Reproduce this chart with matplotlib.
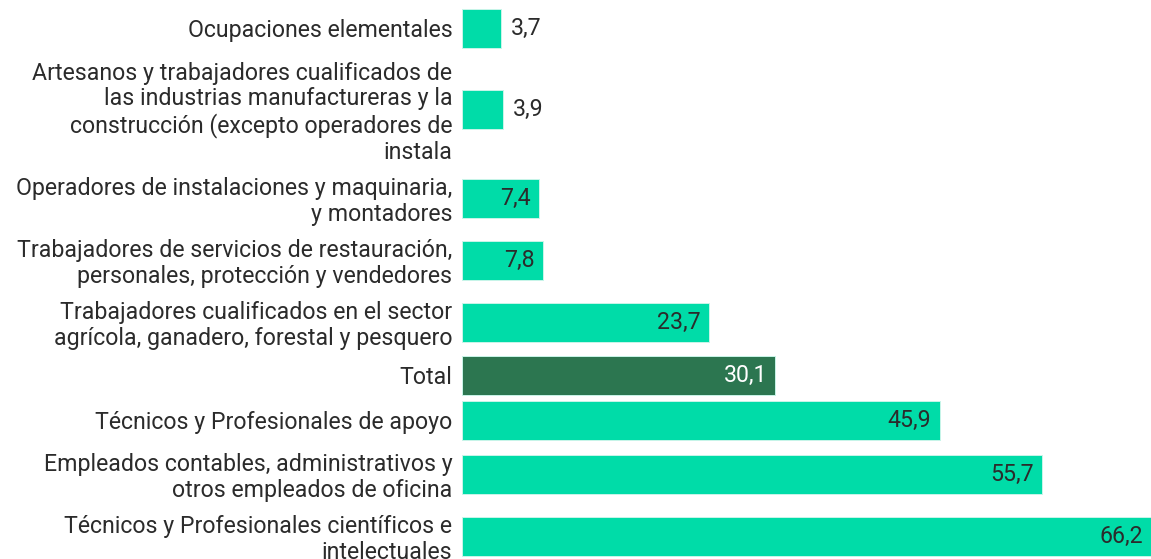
"""Horizontal bar chart: share by occupation group."""

import matplotlib
matplotlib.use("Agg")
import matplotlib.pyplot as plt

plt.rcParams["font.family"] = ["Roboto", "DejaVu Sans"]

categories = [
    "Ocupaciones elementales",
    "Artesanos y trabajadores cualificados de\nlas industrias manufactureras y la\n"
    "construcción (excepto operadores de\ninstala",
    "Operadores de instalaciones y maquinaria,\ny montadores",
    "Trabajadores de servicios de restauración,\npersonales, protección y vendedores",
    "Trabajadores cualificados en el sector\nagrícola, ganadero, forestal y pesquero",
    "Total",
    "Técnicos y Profesionales de apoyo",
    "Empleados contables, administrativos y\notros empleados de oficina",
    "Técnicos y Profesionales científicos e\nintelectuales",
]
values = [3.7, 3.9, 7.4, 7.8, 23.7, 30.1, 45.9, 55.7, 66.2]
highlight = "Total"

LIGHT = "#00dca8"
DARK = "#2c7650"
TEXT = "#2b2b2b"
FS = 16.7

# slot height grows with the number of label lines (pixel units)
centers = []
pos = 0.0
for name in categories:
    n_lines = name.count("\n") + 1
    slot = max(45, 27 * n_lines + 8)
    centers.append(pos + slot / 2)
    pos += slot

fig = plt.figure(figsize=(11.51, 5.59), dpi=100)
ax = fig.add_axes([462 / 1151, 0, 1 - 462 / 1151, 1])

colors = [DARK if c == highlight else LIGHT for c in categories]
bars = ax.barh(centers, values, height=39, color=colors,
               edgecolor="#c9f5e9", linewidth=0.7)

ax.set_xlim(0, max(values))
ax.set_ylim(pos - 8, -6)
ax.set_yticks(centers)
ax.set_yticklabels(categories, fontsize=FS, color=TEXT, ha="right")
for lbl in ax.get_yticklabels():
    lbl.set_linespacing(1.15)
ax.tick_params(axis="y", length=0, pad=7)
ax.set_xticks([])
for spine in ax.spines.values():
    spine.set_visible(False)

for bar, val, cat in zip(bars, values, categories):
    label = f"{val:.1f}".replace(".", ",")
    y = bar.get_y() + bar.get_height() / 2
    if val > 5:
        ax.annotate(label, (val, y), xytext=(-6, 0), textcoords="offset points",
                    ha="right", va="center", fontsize=FS,
                    color="white" if cat == highlight else TEXT)
    else:
        ax.annotate(label, (val, y), xytext=(7.5, 0), textcoords="offset points",
                    ha="left", va="center", fontsize=FS, color=TEXT)

fig.savefig("out.png", dpi=100)
